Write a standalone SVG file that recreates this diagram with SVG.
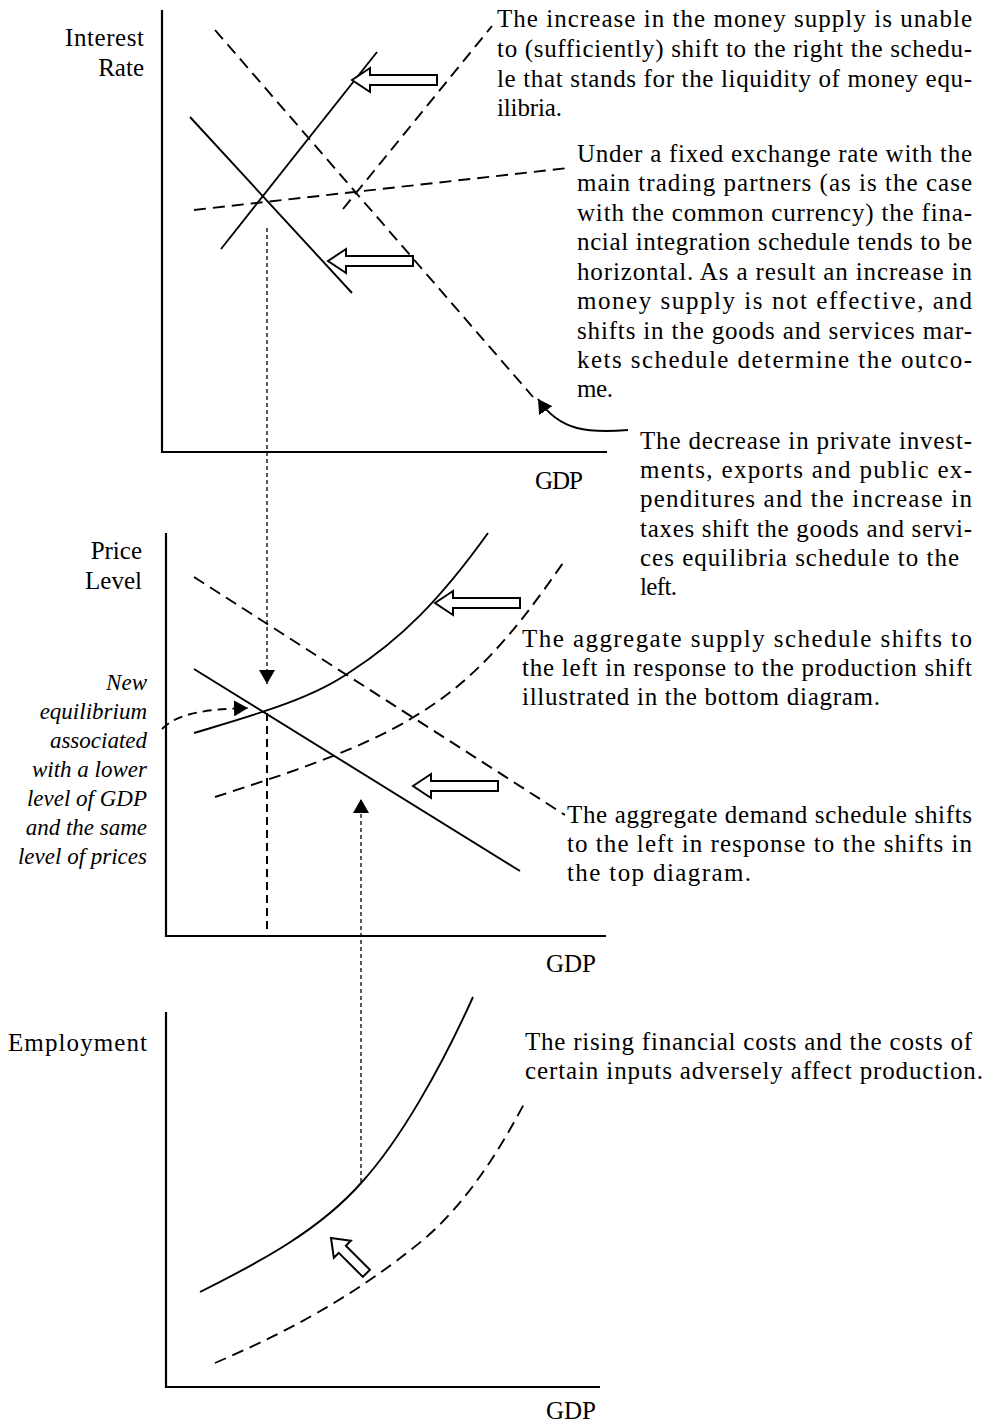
<svg xmlns="http://www.w3.org/2000/svg" width="996" height="1422" viewBox="0 0 996 1422">
<style>
text{font-family:"Liberation Serif","Times New Roman",serif;font-size:25px;fill:#000}
.it{font-style:italic;font-size:23px}
.axis{stroke:#000;stroke-width:2.2;fill:none}
.solid{stroke:#000;stroke-width:1.9;fill:none}
.dash{stroke:#000;stroke-width:1.9;fill:none;stroke-dasharray:12,7}
.dot{stroke:#000;stroke-width:1.3;fill:none;stroke-dasharray:4,3}
.vdash{stroke:#000;stroke-width:2;fill:none;stroke-dasharray:8,5}
.hollow{fill:#fff;stroke:#000;stroke-width:2;stroke-linejoin:miter}
</style>
<defs>
<marker id="tri" markerUnits="userSpaceOnUse" viewBox="0 0 14 16" refX="14" refY="8" markerWidth="14" markerHeight="16" orient="auto">
<path d="M0,0 L14,8 L0,16 Z" fill="#000"/>
</marker>
<path id="hollowLong" d="M0,0 L18,-12 L18,-5 L85,-5 L85,5 L18,5 L18,12 Z"/>
<path id="hollowShort" d="M0,0 L16,-12 L16,-5 L50,-5 L50,5 L16,5 L16,12 Z"/>
</defs>

<g id="chart-interest">
<path class="axis" d="M162,10 V452 H607"/>
<text x="144" y="46" text-anchor="end" textLength="79" lengthAdjust="spacing">Interest</text>
<text x="144" y="76" text-anchor="end">Rate</text>
<text x="535" y="489" textLength="48" lengthAdjust="spacing">GDP</text>
<line class="dash" x1="215" y1="30" x2="533" y2="397"/>
<line class="solid" x1="190" y1="117" x2="352" y2="293"/>
<line class="solid" x1="221" y1="249" x2="377" y2="52"/>
<line class="dash" x1="343" y1="209" x2="492" y2="26"/>
<line class="dash" x1="194" y1="210" x2="568" y2="168"/>
</g>

<g id="chart-price">
<path class="axis" d="M166,533 V936 H606"/>
<text x="142" y="559" text-anchor="end">Price</text>
<text x="142" y="589" text-anchor="end">Level</text>
<text x="546" y="972" textLength="50" lengthAdjust="spacing">GDP</text>
<line class="dash" x1="194" y1="577" x2="565" y2="815"/>
<line class="solid" x1="194" y1="669" x2="520" y2="871"/>
<path class="solid" d="M194,733 C250,716 310,700 350,672 C400,640 440,600 488,533"/>
<path class="dash" d="M215,797 C280,776 360,750 412,718 C470,684 510,640 565,560"/>
<line class="vdash" x1="267" y1="713" x2="267" y2="934"/>
</g>

<g id="chart-employment">
<path class="axis" d="M166,1012 V1387 H600"/>
<text x="8" y="1051" textLength="139" lengthAdjust="spacing">Employment</text>
<text x="546" y="1419" textLength="50" lengthAdjust="spacing">GDP</text>
<path class="solid" d="M200,1292 C260,1262 320,1230 362,1182 C400,1140 440,1070 473,997"/>
<path class="dash" d="M215,1363 C280,1335 350,1300 423,1240 C465,1205 500,1150 525,1102"/>
</g>

<g id="shift-arrows">
<use href="#hollowLong" class="hollow" transform="translate(352,80)"/>
<use href="#hollowLong" class="hollow" transform="translate(328,261)"/>
<use href="#hollowLong" class="hollow" transform="translate(435,603)"/>
<use href="#hollowLong" class="hollow" transform="translate(413,786)"/>
<use href="#hollowShort" class="hollow" transform="translate(331,1238) rotate(45)"/>
</g>

<g id="connectors">
<line class="dot" x1="267" y1="228" x2="267" y2="684" marker-end="url(#tri)"/>
<line class="dot" x1="361" y1="1182" x2="361" y2="799" marker-end="url(#tri)"/>
<path class="solid" d="M628,430 C590,433 560,432 538,399" marker-end="url(#tri)"/>
<path class="dash" style="stroke-dasharray:9,6" d="M162,729 C178,712 212,709 248,708" marker-end="url(#tri)"/>
</g>

<g id="note-money-supply">
<text x="497" y="27" textLength="475" lengthAdjust="spacing">The increase in the money supply is unable</text>
<text x="497" y="57" textLength="475" lengthAdjust="spacing">to (sufficiently) shift to the right the schedu-</text>
<text x="497" y="87" textLength="475" lengthAdjust="spacing">le that stands for the liquidity of money equ-</text>
<text x="497" y="116" textLength="65" lengthAdjust="spacing">ilibria.</text>
</g>

<g id="note-fixed-exchange">
<text x="577" y="162" textLength="395" lengthAdjust="spacing">Under a fixed exchange rate with the</text>
<text x="577" y="191" textLength="395" lengthAdjust="spacing">main trading partners (as is the case</text>
<text x="577" y="221" textLength="395" lengthAdjust="spacing">with the common currency) the fina-</text>
<text x="577" y="250" textLength="395" lengthAdjust="spacing">ncial integration schedule tends to be</text>
<text x="577" y="280" textLength="395" lengthAdjust="spacing">horizontal. As a result an increase in</text>
<text x="577" y="309" textLength="395" lengthAdjust="spacing">money supply is not effective, and</text>
<text x="577" y="339" textLength="395" lengthAdjust="spacing">shifts in the goods and services mar-</text>
<text x="577" y="368" textLength="395" lengthAdjust="spacing">kets schedule determine the outco-</text>
<text x="577" y="397" textLength="36" lengthAdjust="spacing">me.</text>
</g>

<g id="note-demand-decrease">
<text x="640" y="449" textLength="332" lengthAdjust="spacing">The decrease in private invest-</text>
<text x="640" y="478" textLength="332" lengthAdjust="spacing">ments, exports and public ex-</text>
<text x="640" y="507" textLength="332" lengthAdjust="spacing">penditures and the increase in</text>
<text x="640" y="537" textLength="332" lengthAdjust="spacing">taxes shift the goods and servi-</text>
<text x="640" y="566" textLength="319" lengthAdjust="spacing">ces equilibria schedule to the</text>
<text x="640" y="595" textLength="37" lengthAdjust="spacing">left.</text>
</g>

<g id="note-aggregate-supply">
<text x="522" y="647" textLength="450" lengthAdjust="spacing">The aggregate supply schedule shifts to</text>
<text x="522" y="676" textLength="450" lengthAdjust="spacing">the left in response to the production shift</text>
<text x="522" y="705" textLength="358" lengthAdjust="spacing">illustrated in the bottom diagram.</text>
</g>

<g id="note-aggregate-demand">
<text x="567" y="823" textLength="405" lengthAdjust="spacing">The aggregate demand schedule shifts</text>
<text x="567" y="852" textLength="405" lengthAdjust="spacing">to the left in response to the shifts in</text>
<text x="567" y="881" textLength="184" lengthAdjust="spacing">the top diagram.</text>
</g>

<g id="note-production">
<text x="525" y="1050" textLength="447" lengthAdjust="spacing">The rising financial costs and the costs of</text>
<text x="525" y="1079" textLength="458" lengthAdjust="spacing">certain inputs adversely affect production.</text>
</g>

<g id="note-new-equilibrium">
<text class="it" x="147" y="690" text-anchor="end">New</text>
<text class="it" x="147" y="719" text-anchor="end">equilibrium</text>
<text class="it" x="147" y="748" text-anchor="end">associated</text>
<text class="it" x="147" y="777" text-anchor="end">with a lower</text>
<text class="it" x="147" y="806" text-anchor="end">level of GDP</text>
<text class="it" x="147" y="835" text-anchor="end">and the same</text>
<text class="it" x="147" y="864" text-anchor="end">level of prices</text>
</g>
</svg>
